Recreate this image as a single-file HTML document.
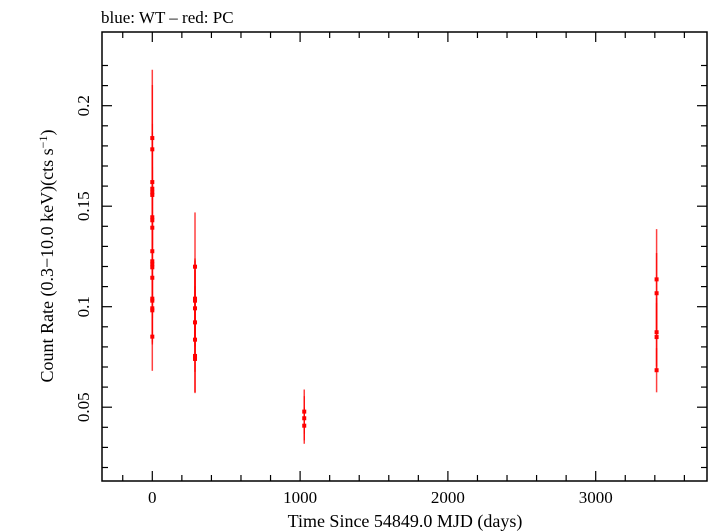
<!DOCTYPE html>
<html><head><meta charset="utf-8"><style>
html,body{margin:0;padding:0;background:#fff}
svg{display:block}
text{font-family:"Liberation Serif",serif;fill:#000}
</style></head><body>
<svg id="chart" width="709" height="532" xmlns="http://www.w3.org/2000/svg">
<text x="101" y="23" font-size="17">blue: WT – red: PC</text>
<rect x="102" y="32" width="605" height="449" fill="none" stroke="#000" stroke-width="1.5"/>
<g id="ticks"></g>
<g id="marks"></g>
<text x="405" y="527" font-size="18" text-anchor="middle">Time Since 54849.0 MJD (days)</text>
<text transform="translate(53,256) rotate(-90)" font-size="18" text-anchor="middle">Count Rate (0.3−10.0 keV)(cts s<tspan font-size="12" dy="-6">−1</tspan><tspan dy="6">)</tspan></text>
</svg>
<script>
const times = [0,0,0,0,0,0,0,0,0,0,0,0,0,0,0,0,0,0,0, 289,289,289,289,289,289,289,289, 1028,1028,1028, 3412,3412,3412,3412,3412];
const rates = [0.1839,0.1783,0.162,0.1587,0.1569,0.1556,0.1445,0.143,0.1393,0.1276,0.1226,0.1211,0.1196,0.1144,0.104,0.103,0.0992,0.0982,0.0851,
 0.1199,0.104,0.103,0.0992,0.0922,0.0836,0.0755,0.074,
 0.0478,0.0445,0.0408,
 0.1136,0.1067,0.0873,0.0849,0.0684];
const errors = [0.034,0.032,0.029,0.028,0.028,0.027,0.025,0.025,0.024,0.022,0.021,0.021,0.02,0.02,0.018,0.018,0.017,0.017,0.017,
 0.027,0.02,0.02,0.019,0.018,0.016,0.018,0.017,
 0.011,0.011,0.009,
 0.025,0.02,0.017,0.017,0.011];
const xTickLabels = ["0","1000","2000","3000"];
const xTickValues = [0,1000,2000,3000];
const yTickLabels = ["0.05","0.1","0.15","0.2"];
const yTickValues = [0.05,0.1,0.15,0.2];

const L=102,R=707,T=32,B=481;
function xs(t){return 152.3+t*0.1478;}
function ys(v){return 306.7-(v-0.1)*2010;}
const NS="http://www.w3.org/2000/svg";
function mk(tag,attrs,parent){const e=document.createElementNS(NS,tag);for(const k in attrs)e.setAttribute(k,attrs[k]);parent.appendChild(e);return e;}
const tg=document.getElementById('ticks');
// x ticks
for(let t=-200;t<=3600;t+=200){
  const x=xs(t); if(x<L||x>R)continue;
  const major=t%1000===0; const len=major?10:6;
  let l=mk('line',{x1:x,x2:x,y1:B,y2:B-len,stroke:'#000','stroke-width':1.2},tg);
  
  
  l=mk('line',{x1:x,x2:x,y1:T,y2:T+len,stroke:'#000','stroke-width':1.2},tg);
  
  
}
xTickValues.forEach((v,i)=>{
  const tx=mk('text',{x:xs(v),y:503,'font-size':17,'text-anchor':'middle'},tg);
  tx.textContent=xTickLabels[i];
  
  
});
// y ticks
for(let k=2;k<=22;k++){
  const v=k*0.01; const y=ys(v); if(y<T||y>B)continue;
  const major=k%5===0; const len=major?10:6;
  let l=mk('line',{x1:L,x2:L+len,y1:y,y2:y,stroke:'#000','stroke-width':1.2},tg);
  
  
  l=mk('line',{x1:R,x2:R-len,y1:y,y2:y,stroke:'#000','stroke-width':1.2},tg);
  
  
}
yTickValues.forEach((v,i)=>{
  const y=ys(v);
  const tx=mk('text',{transform:`translate(89,${y}) rotate(-90)`,'font-size':17,'text-anchor':'middle'},tg);
  tx.textContent=yTickLabels[i];
  
  
});
// data
const mg=document.getElementById('marks');
times.forEach((t,i)=>{
  const x=xs(t);
  const eb=mk('line',{x1:x,x2:x,y1:ys(rates[i]+errors[i]),y2:ys(rates[i]-errors[i]),stroke:'#f00','stroke-width':1.5,'stroke-opacity':0.75},mg);
  
  
  const p=mk('rect',{x:x-2,y:ys(rates[i])-2,width:4,height:4,fill:'#f00'},mg);
  
  
});
</script>
</body></html>
